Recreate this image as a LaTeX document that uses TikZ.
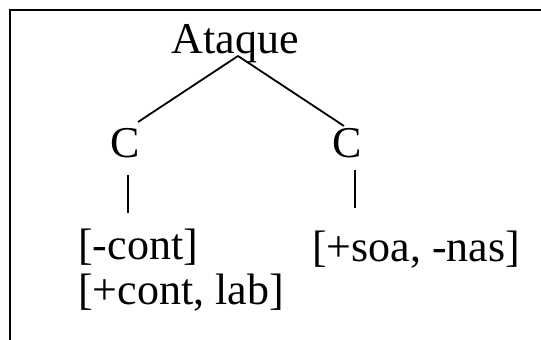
\documentclass[tikz,border=0pt]{standalone}
\usepackage{fontspec}
\setmainfont{Liberation Serif}
\begin{document}
\begin{tikzpicture}[x=1pt,y=1pt,
  lbl/.style={inner sep=0pt,font=\fontsize{44}{45}\selectfont},
  branch/.style={line width=1.8pt},
  frame/.style={line width=1.4pt}]
\useasboundingbox (0,0) rectangle (541,340);
\fill[white] (0,0) rectangle (541,340);
% frame
\coordinate (tl) at (10,330);
\coordinate (tr) at (541,330);
\coordinate (bl) at (10,0);
\draw[frame] (bl) -- (tl) -- (tr);
% nodes
\node[lbl,anchor=base] (ataque) at (235,286) {Ataque};
\node[lbl,anchor=base] (cL) at (125,182) {C};
\node[lbl,anchor=base] (cR) at (347,182) {C};
\node[lbl,anchor=base west] (f1) at (78,80) {[-cont]};
\node[lbl,anchor=base west] (f2) at (78,35) {[+cont, lab]};
\node[lbl,anchor=base west] (f3) at (312,78) {[+soa, -nas]};
% branch points
\coordinate (apex) at (238,284);
\coordinate (endL) at (138,218);
\coordinate (endR) at (344,214);
\coordinate (vLt) at (128,165);
\coordinate (vLb) at (128,127);
\coordinate (vRt) at (355,170);
\coordinate (vRb) at (355,132);
\draw[branch] (apex) -- (endL);
\draw[branch] (apex) -- (endR);
\draw[branch] (vLt) -- (vLb);
\draw[branch] (vRt) -- (vRb);
\end{tikzpicture}
\end{document}
